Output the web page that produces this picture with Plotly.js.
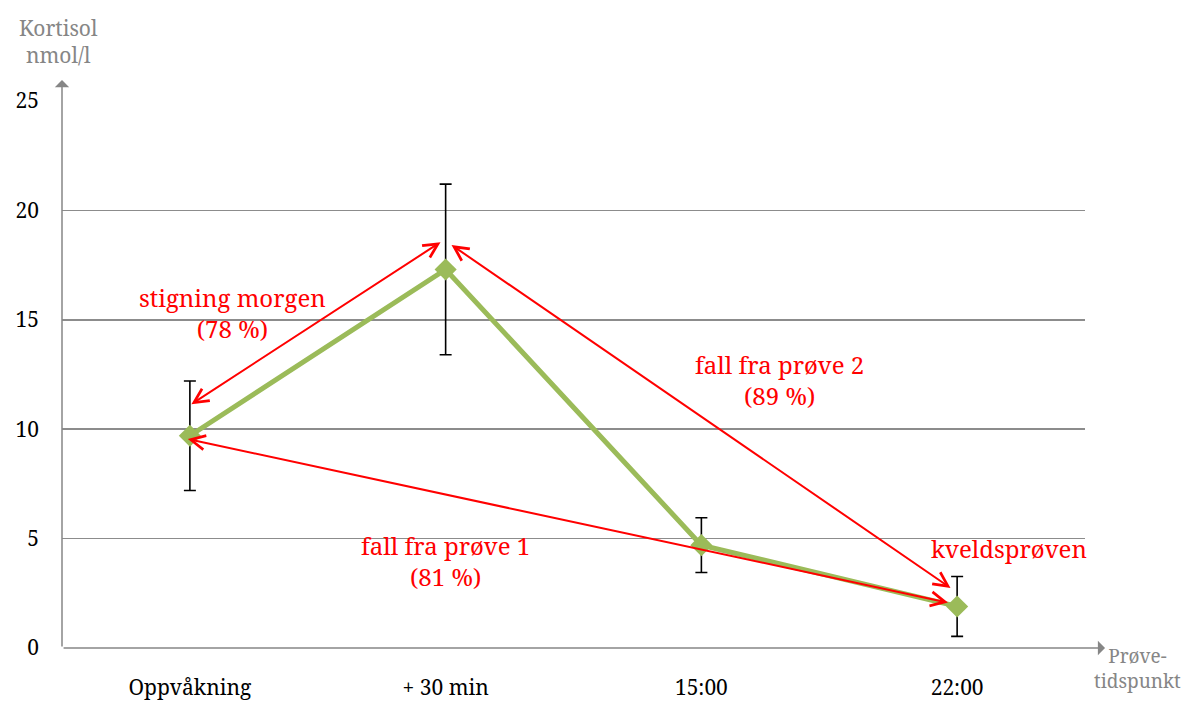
<!DOCTYPE html>
<html>
<head>
<meta charset="utf-8">
<script src="https://cdn.plot.ly/plotly-3.0.1.min.js"></script>
<style>html,body{margin:0;padding:0;background:#fff;}#chart{width:1188px;height:702px;}</style>
</head>
<body>
<div id="chart"></div>
<script>
// ---- data ----
const categories = ["Oppvåkning", "+ 30 min", "15:00", "22:00"];
const cortisol = [9.7, 17.3, 4.7, 1.9];
const cortisolErr = [2.5, 3.9, 1.25, 1.37];
const yTicks = [0, 5, 10, 15, 20, 25];

// red double-headed arrows: [x, y] in category index / nmol/l
const arrowTails = [[0.0, 11.1], [2.98, 2.70], [2.97, 2.06]];
const arrowHeads = [[0.98, 18.55], [1.023, 18.42], [-0.008, 9.55]];

// red labels
const labelTexts = ["stigning morgen<br>(78 %)", "fall fra prøve 2<br>(89 %)", "fall fra prøve 1<br>(81 %)", "kveldsprøven"];
const labelX = [0.168, 2.305, 1.0, 3.203];
const labelY = [15.29, 12.25, 3.98, 4.57];

const RED = "#FF0000";
const GREEN = "#9BBB59";
const GRAY = "#868686";
const FONT = "Noto Serif, DejaVu Serif, serif";

const trace = {
  x: categories.map((c, i) => i),
  y: cortisol,
  type: "scatter",
  mode: "lines+markers",
  line: {color: GREEN, width: 5},
  marker: {symbol: "diamond", size: 17, color: GREEN},
  error_y: {type: "data", array: cortisolErr, visible: true, color: "#000", thickness: 1.6, width: 6},
  hoverinfo: "skip"
};

const annotations = [];
arrowTails.forEach((t, i) => {
  const h = arrowHeads[i];
  annotations.push({
    x: h[0], y: h[1], xref: "x", yref: "y",
    ax: t[0], ay: t[1], axref: "x", ayref: "y",
    text: "", showarrow: true, arrowside: "end+start",
    arrowhead: 5, startarrowhead: 5, arrowsize: 1.4, startarrowsize: 1.4,
    arrowwidth: 2, arrowcolor: RED, standoff: 0, startstandoff: 0
  });
});
labelTexts.forEach((t, i) => {
  annotations.push({
    x: labelX[i], y: labelY[i], xref: "x", yref: "y",
    text: t, showarrow: false, font: {family: FONT, size: 24, color: RED},
    xanchor: "center", yanchor: "middle", align: "center"
  });
});
// axis lines with arrows
annotations.push({
  x: 0, y: 1.0384, xref: "paper", yref: "paper",
  ax: 0, ay: 568, axref: "pixel", ayref: "pixel",
  text: "", showarrow: true, arrowhead: 1, arrowsize: 1.6, arrowwidth: 1.5, arrowcolor: GRAY, standoff: 0
});
annotations.push({
  x: 1.0196, y: 0, xref: "paper", yref: "paper",
  ax: -1043, ay: 0, axref: "pixel", ayref: "pixel",
  text: "", showarrow: true, arrowhead: 1, arrowsize: 1.6, arrowwidth: 1.5, arrowcolor: GRAY, standoff: 0
});
// axis titles
annotations.push({
  x: -0.003, y: 1.108, xref: "paper", yref: "paper",
  text: "Kortisol<br>nmol/l", showarrow: false, xanchor: "center", yanchor: "middle",
  font: {family: FONT, size: 21, color: GRAY}, align: "center"
});
annotations.push({
  x: 1.0958, y: -0.0366, xref: "paper", yref: "paper",
  text: "Prøve-<br>tidspunkt", showarrow: false, xanchor: "right", yanchor: "middle",
  font: {family: FONT, size: 19, color: GRAY}, align: "center"
});

const layout = {
  width: 1188, height: 702,
  margin: {l: 62, r: 103, t: 101, b: 54, pad: 0},
  paper_bgcolor: "#fff", plot_bgcolor: "#fff",
  showlegend: false,
  font: {family: FONT, size: 21, color: "#000"},
  xaxis: {
    range: [-0.5, 3.5], tickmode: "array", tickvals: categories.map((c, i) => i), ticktext: categories,
    showgrid: false, zeroline: false, showline: false, ticks: "", ticklabelstandoff: 25,
    tickfont: {family: FONT, size: 21, color: "#000"}, fixedrange: true
  },
  yaxis: {
    range: [0, 25], tickmode: "array", tickvals: yTicks,
    showgrid: true, gridcolor: "#8C8C8C", gridwidth: 1.5,
    zeroline: false, showline: false, ticks: "", ticklabelstandoff: 22,
    tickfont: {family: FONT, size: 21, color: "#000"}, fixedrange: true
  },
  annotations: annotations
};

Plotly.newPlot("chart", [trace], layout, {displayModeBar: false, staticPlot: true});
</script>
</body>
</html>
